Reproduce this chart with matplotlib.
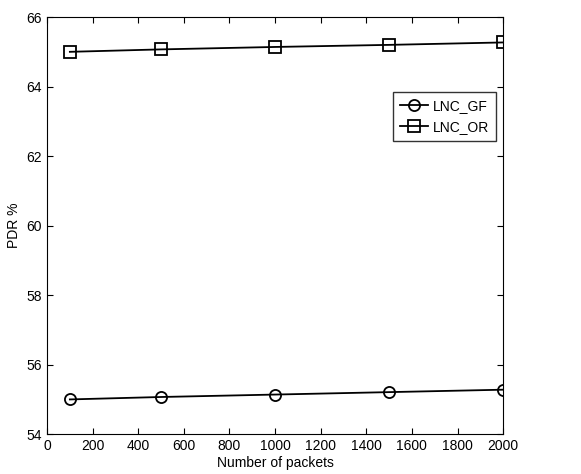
import matplotlib
matplotlib.use("Agg")
import matplotlib.pyplot as plt

plt.rcParams['font.family'] = ['Liberation Sans', 'DejaVu Sans']

packets = [100, 500, 1000, 1500, 2000]
pdr_gf = [55.0, 55.07, 55.14, 55.21, 55.28]
pdr_or = [65.0, 65.07, 65.14, 65.2, 65.27]

fig = plt.figure(figsize=(5.81, 4.74), dpi=100)
ax = fig.add_axes([0.081, 0.084, 0.785, 0.88])

ax.plot(packets, pdr_gf, color="black", lw=1.3, marker="o", ms=8,
        mfc="none", mec="black", mew=1.3, label="LNC_GF")
ax.plot(packets, pdr_or, color="black", lw=1.3, marker="s", ms=8,
        mfc="none", mec="black", mew=1.3, label="LNC_OR")

ax.set_xlim(0, 2000)
ax.set_ylim(54, 66)
ax.set_xticks(range(0, 2001, 200))
ax.set_yticks(range(54, 67, 2))
ax.tick_params(direction="in", top=True, right=True, labelsize=10, length=4)
ax.set_xlabel("Number of packets", fontsize=10, labelpad=2)
ax.set_ylabel("PDR %", fontsize=10)

leg = ax.legend(loc="upper right", bbox_to_anchor=(0.985, 0.82), fontsize=10,
                fancybox=False, edgecolor="black", handlelength=2.0,
                borderpad=0.5, labelspacing=0.5, handletextpad=0.4,
                borderaxespad=0)
leg.get_frame().set_linewidth(1.0)

plt.savefig("out.png", dpi=100)
